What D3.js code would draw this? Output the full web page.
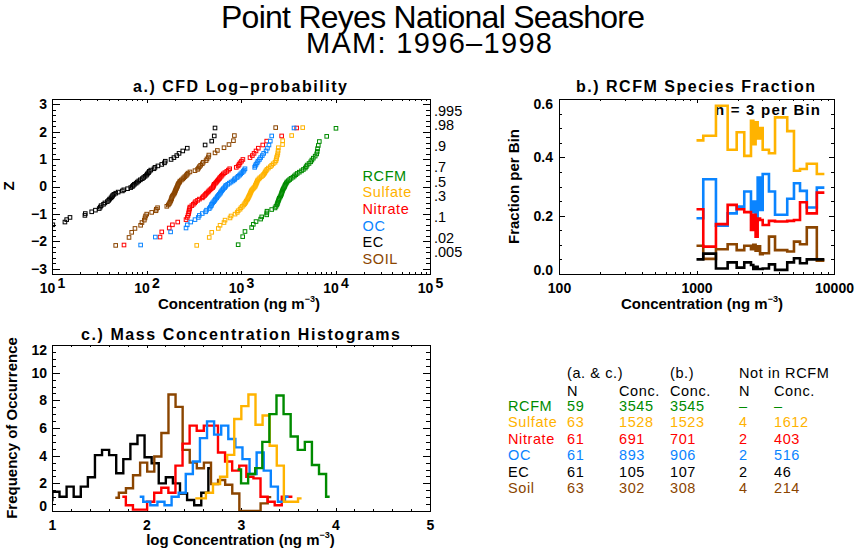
<!DOCTYPE html>
<html>
<head>
<meta charset="utf-8">
<script src="https://cdn.jsdelivr.net/npm/d3@7"></script>
<style>
body { margin: 0; background: #fff; }
svg { display: block; background: #fff; }
text { font-family: "Liberation Sans", Arial, sans-serif; fill: #000; }
.bold { font-weight: bold; }
</style>
</head>
<body>
<svg width="860" height="550"></svg>
<script>
// ---------------- data ----------------
var speciesNames = ['RCFM', 'Sulfate', 'Nitrate', 'OC', 'EC', 'Soil'];
var legendNames = ['RCFM', 'Sulfate', 'Nitrate', 'OC', 'EC', 'SOIL'];
var speciesColors = ['#008b00', '#ffb300', '#ff0000', '#0a84ff', '#000000', '#8b4500'];

// a.) plotting positions (Z) of the ranked samples
var z59 = [-2.128,-1.834,-1.645,-1.501,-1.383,-1.282,-1.192,-1.111,-1.036,-0.967,-0.903,-0.842,-0.784,-0.728,-0.674,-0.623,-0.573,-0.524,-0.477,-0.431,-0.385,-0.341,-0.297,-0.253,-0.210,-0.168,-0.126,-0.084,-0.042,0,
  0.042,0.084,0.126,0.168,0.210,0.253,0.297,0.341,0.385,0.431,0.477,0.524,0.573,0.623,0.674,0.728,0.784,0.842,0.903,0.967,1.036,1.111,1.192,1.282,1.383,1.501,1.645,1.834,2.128];
var z61 = [-2.140,-1.849,-1.660,-1.518,-1.401,-1.300,-1.211,-1.131,-1.057,-0.989,-0.925,-0.865,-0.807,-0.753,-0.700,-0.649,-0.600,-0.553,-0.506,-0.461,-0.416,-0.372,-0.329,-0.287,-0.245,-0.204,-0.162,-0.122,-0.081,-0.040,0,
  0.040,0.081,0.122,0.162,0.204,0.245,0.287,0.329,0.372,0.416,0.461,0.506,0.553,0.600,0.649,0.700,0.753,0.807,0.865,0.925,0.989,1.057,1.131,1.211,1.300,1.401,1.518,1.660,1.849,2.140];
var z63 = [-2.154,-1.863,-1.676,-1.534,-1.418,-1.318,-1.230,-1.150,-1.078,-1.010,-0.947,-0.887,-0.831,-0.776,-0.725,-0.674,-0.626,-0.579,-0.533,-0.489,-0.445,-0.402,-0.360,-0.319,-0.278,-0.237,-0.197,-0.157,-0.118,-0.078,-0.039,0,
  0.039,0.078,0.118,0.157,0.197,0.237,0.278,0.319,0.360,0.402,0.445,0.489,0.533,0.579,0.626,0.674,0.725,0.776,0.831,0.887,0.947,1.010,1.078,1.150,1.230,1.318,1.418,1.534,1.676,1.863,2.154];

// a.) sorted concentrations (ng m-3)
var concRCFM = [933,1042,1102,1297,1349,1442,1614,1656,1871,1875,1884,2113,2291,2344,2399,2427,2455,2483,2512,2541,2588,2630,2661,2692,2710,2742,2767,2805,2851,2897,
  2924,2965,3020,3069,3162,3273,3388,3548,3673,3802,3936,4140,4365,4571,4786,4898,5012,5248,5470,5623,5821,6095,6324,6412,6457,6577,6745,8072,10116];
var concSulfate = [340,461,490,575,600,661,678,765,784,865,912,933,977,1000,1035,1072,1096,1122,1135,1161,1180,1197,1213,1230,1245,1259,1274,1288,1312,1343,1374,1406,
  1419,1439,1455,1472,1486,1507,1549,1585,1641,1698,1738,1778,1803,1841,1884,1950,2042,2113,2188,2291,2344,2371,2388,2430,2455,2470,2483,2754,2760,3436,4498];
var concNitrate = [57.8,139,145,174,188,214,262,270,275,279,281,283,286,288,302,313,324,331,347,363,389,398,412,422,432,447,457,470,484,501,509,
  515,520,537,550,562,575,589,600,617,631,650,676,708,735,759,891,933,955,977,1012,1047,1245,1318,1374,1442,1524,1698,1871,2692,3882];
var concOC = [86.7,124,180,262,270,294,326,353,362,389,422,432,461,473,484,490,501,515,527,537,553,562,575,589,603,611,624,638,650,671,684,
  693,724,752,785,822,851,865,908,933,966,993,1023,1057,1079,1102,1396,1413,1442,1479,1514,1567,1614,1679,1738,1841,1905,1977,2042,2113,3639];
var concEC = [6,7,8,9,10.2,13.7,14.3,15.5,22.3,22.5,26.3,28.8,31.6,32.4,33.1,35.1,36.3,38.5,39.8,40.7,42.1,43.1,43.9,45.2,47.3,50.1,55.5,57.5,63.1,68.1,70.8,
  72.4,74.5,77.6,80,82.8,86.1,90.2,93.3,96.6,100,102,105,107,111,120,123,132,145,155,158,182,195,209,221,242,270,417,490,521,531];
var concSoil = [47.2,65.3,69.7,75.5,86.7,89.5,94.8,96.4,97.7,100.5,113.5,126,127,131,164,170,174,177,180,182,184,185,188,191,195,198,200,202,204,207,209,212,
  214,216,219,224,226,234,242,248,255,263,269,275,288,326,347,355,363,374,389,398,427,437,452,457,531,562,661,746,832,851,2328];

var probLabels = ['.995', '.98', '.9', '.7', '.5', '.3', '.1', '.02', '.005'];
var probZ = [2.576, 2.054, 1.282, 0.524, 0, -0.524, -1.282, -2.054, -2.576];

// b.) RCFM bins (n = 3 per bin) and species fraction per bin
var binEdgesB = [1000,1120,1385,1685,1960,2225,2490,2590,2690,2785,2900,3030,3365,3725,4570,5115,5660,6340,7500,8510];
var fracSulfate = [0.458,0.474,0.577,0.426,0.486,0.405,0.525,0.445,0.520,0.465,0.500,0.426,0.414,0.537,0.490,0.354,0.360,0.378,0.343];
var fracNitrate = [0.222,0.094,0.171,0.237,0.222,0.212,0.151,0.203,0.128,0.190,0.185,0.168,0.182,0.180,0.182,0.185,0.246,0.208,0.279];
var fracOC = [0.191,0.325,0.166,0.208,0.231,0.283,0.212,0.248,0.180,0.331,0.220,0.343,0.283,0.203,0.258,0.311,0.285,0.228,0.296];
var fracEC = [0.050,0.070,0.019,0.040,0.022,0.040,0.031,0.017,0.025,0.017,0.017,0.019,0.033,0.014,0.040,0.054,0.037,0.050,0.050];
var fracSoil = [0.097,0.052,0.085,0.102,0.082,0.097,0.085,0.100,0.080,0.095,0.068,0.071,0.128,0.082,0.077,0.111,0.102,0.160,0.046];

// c.) histograms: log10 of the first bin centre, bin size, frequency per bin
var binSize = 0.075;
var histStart = [2.963, 2.516, 1.744, 1.928, 0.892, 1.670];
var histRCFM = [3.0,2.0,2.68,3.1,5.0,7.0,8.35,7.0,5.39,4.42,5.0,3.33,2.68,1.03];
var histSulfate = [0.91,0.91,1.32,1.95,2.48,4.06,6.65,7.58,8.42,6.24,6.9,4.72,3.28,0.67,0.67,0.91];
var histNitrate = [1.03,0.42,0.1,0.1,0.67,1.32,1.68,1.32,3.28,4.87,6.17,5.8,6.17,6.17,4.23,3.58,2.92,3.28,2.48,2.36,1.03,0.67,0.42,1.03,1.03];
var histOC = [1.03,0.67,0.42,0.67,0.42,1.03,1.32,2.68,3.58,5.27,6.48,5.52,6.17,5.2,4.6,3.75,2.68,4.23,2.92,1.76,0.67,1.03];
var histEC = [0.5,0.79,1.39,1.03,1.76,1.03,1.76,2.44,4.04,4.42,4.04,2.73,3.75,4.84,5.47,3.89,3.45,2.0,2.44,2.0,1.27,0.79,0.42,1.32,3.09];
var histSoil = [0.96,1.32,1.64,2.58,3.5,2.85,3.94,5.64,8.42,7.53,4.42,3.5,3.09,3.5,1.95,2.24,1.9,1.27,0,0,0,0.55,1.0];

// summary table
var tableN = ['59', '63', '61', '61', '61', '63'];
var tableConcAC = ['3545', '1528', '691', '893', '105', '302'];
var tableConcB = ['3545', '1523', '701', '906', '107', '308'];
var tableNotN = ['–', '4', '2', '2', '2', '4'];
var tableNotConc = ['–', '1612', '403', '516', '46', '214'];

// ---------------- layout ----------------
var svg = d3.select('svg');

var xa = d3.scaleLog().domain([10, 1e5]).range([52, 430]);
var ya = d3.scaleLinear().domain([-3.2, 3.2]).range([274, 99]);
var xb = d3.scaleLog().domain([100, 1e4]).range([559, 834]);
var yb = d3.scaleLinear().domain([0, 0.6]).range([274, 99]);
var xc = d3.scaleLinear().domain([1, 5]).range([52, 430]);
var yc = d3.scaleLinear().domain([0, 12]).range([511, 345]);

function logMinor(lo, hi) {
    var out = [];
    for (var d = lo; d < hi; d *= 10) {
        for (var m = 2; m <= 9; m++) out.push(d * m);
    }
    return out;
}
function steps(lo, hi, st) { return d3.range(lo, hi + st / 2, st); }

function clean(g) {
    g.select('.domain').remove();
    g.selectAll('line').attr('stroke', '#000').attr('stroke-width', 1).attr('shape-rendering', 'crispEdges');
}

// inward ticks on all four sides plus the frame
function frame(xs, ys, xMaj, xMin, yMaj, yMin, lenX, lenY) {
    var g = svg.append('g').attr('class', 'frame');
    var xr = xs.range(), yr = ys.range();
    [[d3.axisBottom, yr[0]], [d3.axisTop, yr[1]]].forEach(function(p) {
        g.append('g').attr('transform', 'translate(0,' + p[1] + ')')
            .call(p[0](xs).tickValues(xMaj).tickSize(-lenX).tickFormat('')).call(clean);
        g.append('g').attr('transform', 'translate(0,' + p[1] + ')')
            .call(p[0](xs).tickValues(xMin).tickSize(-lenX / 2).tickFormat('')).call(clean);
    });
    [[d3.axisLeft, xr[0]], [d3.axisRight, xr[1]]].forEach(function(p) {
        g.append('g').attr('transform', 'translate(' + p[1] + ',0)')
            .call(p[0](ys).tickValues(yMaj).tickSize(-lenY).tickFormat('')).call(clean);
        g.append('g').attr('transform', 'translate(' + p[1] + ',0)')
            .call(p[0](ys).tickValues(yMin).tickSize(-lenY / 2).tickFormat('')).call(clean);
    });
    g.append('rect')
        .attr('x', xr[0]).attr('y', yr[1])
        .attr('width', xr[1] - xr[0]).attr('height', yr[0] - yr[1])
        .attr('fill', 'none').attr('stroke', '#000').attr('stroke-width', 1)
        .attr('shape-rendering', 'crispEdges');
}

function labelAxis(axis, transform) {
    var g = svg.append('g').attr('transform', transform).call(axis);
    g.select('.domain').remove();
    g.selectAll('line').remove();
    g.attr('font-family', null).attr('font-size', null);
    g.selectAll('text').attr('class', 'bold').attr('font-size', 14);
    return g;
}

function clip(id, xs, ys) {
    var xr = xs.range(), yr = ys.range();
    svg.append('clipPath').attr('id', id).append('rect')
        .attr('x', xr[0]).attr('y', yr[1])
        .attr('width', xr[1] - xr[0]).attr('height', yr[0] - yr[1]);
}

function unitLabel(sel, prefix) {
    sel.text(prefix + 'Concentration (ng m');
    sel.append('tspan').attr('font-size', 9).attr('dy', -7).text('−3');
    sel.append('tspan').attr('dy', 7).text(')');
}

// ---------------- titles ----------------
svg.append('text').attr('x', 433).attr('y', 28).attr('text-anchor', 'middle')
    .attr('font-size', 32).attr('textLength', 424).text('Point Reyes National Seashore');
svg.append('text').attr('x', 429).attr('y', 52.5).attr('text-anchor', 'middle')
    .attr('font-size', 29).attr('textLength', 246).text('MAM: 1996–1998');

// ---------------- a.) CFD log-probability ----------------
svg.append('text').attr('class', 'bold').attr('x', 240).attr('y', 92).attr('text-anchor', 'middle')
    .attr('font-size', 16).attr('textLength', 214).text('a.) CFD Log–probability');

frame(xa, ya, [10, 100, 1e3, 1e4, 1e5], logMinor(10, 1e5), steps(-3, 3, 1), steps(-3.2, 3.2, 0.2), 3.5, 7.5);

labelAxis(d3.axisBottom(xa).tickValues([10, 100, 1e3, 1e4, 1e5]).tickSize(0).tickPadding(9), 'translate(0,274)')
    .selectAll('text').each(function(d) {
        var t = d3.select(this).text('10');
        t.append('tspan').attr('dx', 2).attr('dy', -5).text(Math.round(Math.log10(d)));
    });
labelAxis(d3.axisLeft(ya).tickValues(steps(-3, 3, 1)).tickSize(0).tickPadding(5)
    .tickFormat(function(d) { return d < 0 ? '−' + (-d) : String(d); }), 'translate(52,0)');

svg.selectAll('.prob')
    .data(probLabels)
    .enter()
    .append('text')
    .attr('class', 'prob')
    .attr('x', 434)
    .attr('y', function(d, i) { return ya(probZ[i]); })
    .attr('font-size', 14.5)
    .text(function(d) { return d; });

unitLabel(svg.append('text').attr('class', 'bold').attr('x', 239).attr('y', 309)
    .attr('text-anchor', 'middle').attr('font-size', 15), '');
svg.append('text').attr('class', 'bold').attr('font-size', 15).attr('text-anchor', 'middle')
    .attr('transform', 'translate(13.5,186) rotate(-90)').text('Z');

clip('clipA', xa, ya);
var seriesA = [
    {conc: concRCFM, z: z59}, {conc: concSulfate, z: z63}, {conc: concNitrate, z: z61},
    {conc: concOC, z: z61}, {conc: concEC, z: z61}, {conc: concSoil, z: z63}
];
var sq = 3.6;
svg.append('g').attr('clip-path', 'url(#clipA)')
    .selectAll('.cfd')
    .data(seriesA)
    .enter()
    .append('g')
    .attr('class', 'cfd')
    .attr('stroke', function(d, i) { return speciesColors[i]; })
    .each(function(s) {
        d3.select(this).selectAll('rect')
            .data(s.conc.map(function(c, i) { return [c, s.z[i]]; }))
            .enter()
            .append('rect')
            .attr('x', function(d) { return xa(d[0]) - sq / 2; })
            .attr('y', function(d) { return ya(d[1]) - sq / 2; })
            .attr('width', sq).attr('height', sq)
            .attr('fill', 'none').attr('stroke-width', 1);
    });

svg.selectAll('.legend')
    .data(legendNames)
    .enter()
    .append('text')
    .attr('class', 'legend')
    .attr('x', 362.5)
    .attr('y', function(d, i) { return 180.7 + i * 16.67; })
    .attr('font-size', 14.5)
    .attr('letter-spacing', 0.6)
    .style('fill', function(d, i) { return speciesColors[i]; })
    .text(function(d) { return d; });

// ---------------- b.) RCFM species fraction ----------------
svg.append('text').attr('class', 'bold').attr('x', 695.5).attr('y', 92).attr('text-anchor', 'middle')
    .attr('font-size', 16).attr('textLength', 239).text('b.) RCFM Species Fraction');

frame(xb, yb, [100, 1e3, 1e4], logMinor(100, 1e4), steps(0, 0.6, 0.2), steps(0, 0.6, 0.05), 3.5, 5.5);

labelAxis(d3.axisBottom(xb).tickValues([100, 1e3, 1e4]).tickSize(0).tickPadding(9).tickFormat(d3.format('d')), 'translate(0,274)');
labelAxis(d3.axisLeft(yb).tickValues(steps(0, 0.6, 0.2)).tickSize(0).tickPadding(6).tickFormat(d3.format('.1f')), 'translate(559,0)')
    .selectAll('text')
    .attr('y', function(d) { return d < 0.01 ? -4 : (d > 0.59 ? 5 : 0); });

unitLabel(svg.append('text').attr('class', 'bold').attr('x', 702).attr('y', 309)
    .attr('text-anchor', 'middle').attr('font-size', 15), '');
svg.append('text').attr('class', 'bold').attr('font-size', 15).attr('text-anchor', 'middle')
    .attr('transform', 'translate(518.5,186.5) rotate(-90)').text('Fraction per Bin');
svg.append('text').attr('class', 'bold').attr('x', 715).attr('y', 115)
    .attr('font-size', 15).attr('textLength', 105).text('n = 3 per Bin');

var lineB = d3.line()
    .x(function(d) { return xb(d[0]); })
    .y(function(d) { return yb(d[1]); })
    .curve(d3.curveStepAfter);
var seriesB = [
    {v: fracSoil, c: speciesColors[5]}, {v: fracEC, c: speciesColors[4]},
    {v: fracOC, c: speciesColors[3]}, {v: fracNitrate, c: speciesColors[2]},
    {v: fracSulfate, c: speciesColors[1]}
];
svg.selectAll('.frac')
    .data(seriesB)
    .enter()
    .append('path')
    .attr('class', 'frac')
    .attr('fill', 'none')
    .attr('stroke', function(d) { return d.c; })
    .attr('stroke-width', 2.6)
    .attr('d', function(s) {
        var pts = s.v.map(function(v, i) { return [binEdgesB[i], v]; });
        pts.push([binEdgesB[s.v.length], s.v[s.v.length - 1]]);
        return lineB(pts);
    });

// ---------------- c.) mass concentration histograms ----------------
svg.append('text').attr('class', 'bold').attr('x', 240.5).attr('y', 339.5).attr('text-anchor', 'middle')
    .attr('font-size', 16).attr('textLength', 319).text('c.) Mass Concentration Histograms');

frame(xc, yc, steps(1, 5, 1), steps(1, 5, 0.2), steps(0, 12, 2), steps(0, 12, 0.5), 3.3, 7.5);

labelAxis(d3.axisBottom(xc).tickValues(steps(1, 5, 1)).tickSize(0).tickPadding(9).tickFormat(d3.format('d')), 'translate(0,511)');
labelAxis(d3.axisLeft(yc).tickValues(steps(0, 12, 2)).tickSize(0).tickPadding(5).tickFormat(d3.format('d')), 'translate(52,0)')
    .selectAll('text')
    .attr('y', function(d) { return d === 0 ? -5 : (d === 12 ? 5 : 0); });

unitLabel(svg.append('text').attr('class', 'bold').attr('x', 240.5).attr('y', 545)
    .attr('text-anchor', 'middle').attr('font-size', 15), 'log ');
svg.append('text').attr('class', 'bold').attr('font-size', 15).attr('text-anchor', 'middle')
    .attr('transform', 'translate(16.5,428) rotate(-90)').text('Frequency of Occurrence');

clip('clipC', xc, yc);
var lineC = d3.line()
    .x(function(d) { return xc(d[0]); })
    .y(function(d) { return yc(d[1]); })
    .curve(d3.curveStep);
var seriesC = [
    {v: histEC, k: 4}, {v: histSoil, k: 5}, {v: histNitrate, k: 2},
    {v: histOC, k: 3}, {v: histSulfate, k: 1}, {v: histRCFM, k: 0}
];
svg.append('g').attr('clip-path', 'url(#clipC)')
    .selectAll('.hist')
    .data(seriesC)
    .enter()
    .append('path')
    .attr('class', 'hist')
    .attr('fill', 'none')
    .attr('stroke', function(d) { return speciesColors[d.k]; })
    .attr('stroke-width', 2.4)
    .attr('d', function(s) {
        return lineC(s.v.map(function(v, i) { return [histStart[s.k] + i * binSize, v]; }));
    });

// ---------------- summary table ----------------
var colX = [508, 567, 619, 670, 739, 774];
var table = svg.append('g').attr('font-size', 14.5).attr('letter-spacing', 0.6);
[['(a. & c.)', 567], ['(b.)', 670], ['Not in RCFM', 739]].forEach(function(h) {
    table.append('text').attr('x', h[1]).attr('y', 378.3).text(h[0]);
});
[['N', 567], ['Conc.', 619], ['Conc.', 670], ['N', 739], ['Conc.', 774]].forEach(function(h) {
    table.append('text').attr('x', h[1]).attr('y', 395.7).text(h[0]);
});
var rows = table.selectAll('.row')
    .data(speciesNames)
    .enter()
    .append('g')
    .attr('class', 'row')
    .attr('transform', function(d, i) { return 'translate(0,' + (411 + i * 16.46) + ')'; })
    .style('fill', function(d, i) { return speciesColors[i]; });
rows.each(function(name, i) {
    var cells = [name, tableN[i], tableConcAC[i], tableConcB[i], tableNotN[i], tableNotConc[i]];
    d3.select(this).selectAll('text')
        .data(cells)
        .enter()
        .append('text')
        .attr('x', function(d, j) { return colX[j]; })
        .style('fill', speciesColors[i])
        .text(function(d) { return d; });
});
</script>
</body>
</html>
